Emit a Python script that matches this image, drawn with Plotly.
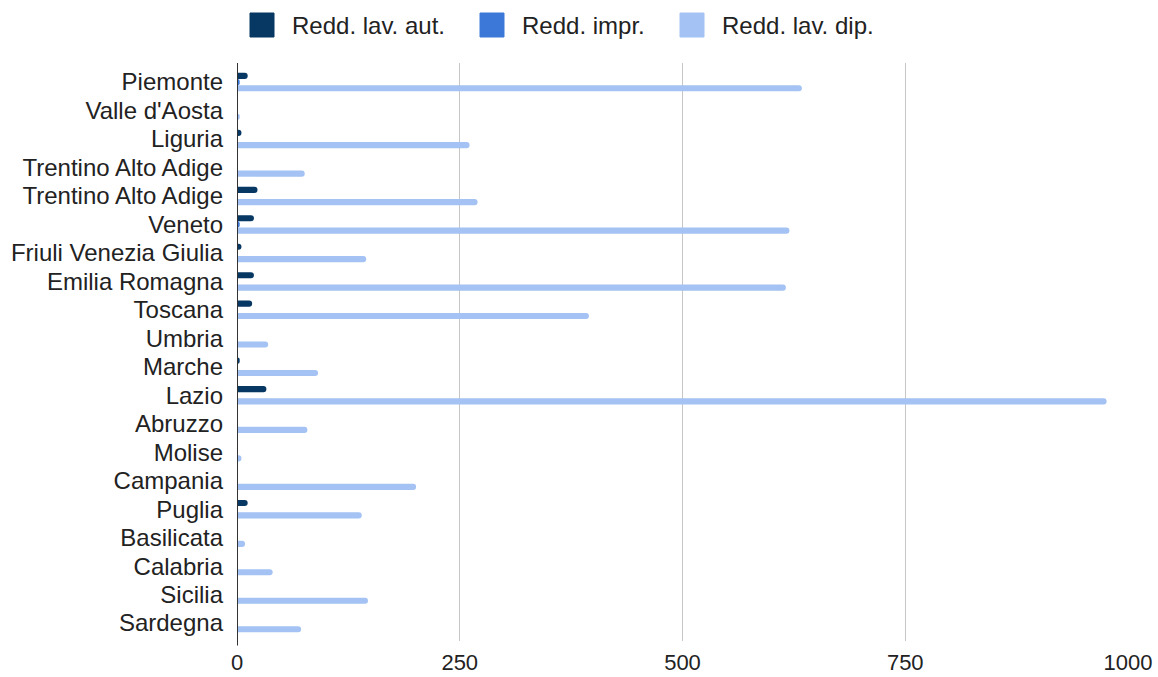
import plotly.graph_objects as go

regioni = [
    "Piemonte", "Valle d'Aosta", "Liguria", "Trentino Alto Adige",
    "Trentino Alto Adige", "Veneto", "Friuli Venezia Giulia", "Emilia Romagna",
    "Toscana", "Umbria", "Marche", "Lazio", "Abruzzo", "Molise", "Campania",
    "Puglia", "Basilicata", "Calabria", "Sicilia", "Sardegna",
]
redd_lav_aut = [12, 0, 5, 0, 23, 19, 5, 19, 17, 0, 3, 33, 0, 0, 0, 12, 0, 0, 0, 0]
redd_impr = [3, 0, 0, 0, 0, 3, 0, 0, 0, 0, 0, 0, 0, 0, 0, 0, 0, 0, 0, 0]
redd_lav_dip = [634, 3, 261, 76, 270, 620, 145, 616, 395, 35, 91, 976, 79, 5,
                201, 140, 9, 40, 147, 72]
x_ticks = [0, 250, 500, 750, 1000]

serie = ["Redd. lav. aut.", "Redd. impr.", "Redd. lav. dip."]
colori = ["#073763", "#3c78d8", "#a4c2f4"]
valori = [redd_lav_aut, redd_impr, redd_lav_dip]

FONT = "Liberation Sans, Arial, sans-serif"
FS = 24
W, H = 1158, 677
ML, MR, MT, MB = 237, 30, 63, 36
PW, PH = W - ML - MR, H - MT - MB

pos = list(range(len(regioni)))

fig = go.Figure()
for name, vals, color in zip(serie, valori, colori):
    fig.add_trace(go.Bar(
        y=pos, x=vals, name=name, orientation="h", showlegend=False,
        marker=dict(color=color, line=dict(width=0)),
    ))

# legend drawn above the plot: swatch + label for each series
legend_x = [250, 480, 680]
for px, name, color in zip(legend_x, serie, colori):
    x0 = (px - ML) / PW
    x1 = (px + 24 - ML) / PW
    y0 = (H - MB - 37) / PH
    y1 = (H - MB - 13) / PH
    fig.add_shape(type="rect", xref="paper", yref="paper",
                  x0=x0, x1=x1, y0=y0, y1=y1,
                  fillcolor=color, line=dict(color=color, width=1))
    fig.add_annotation(xref="paper", yref="paper", x=(px + 40 - ML) / PW,
                       y=(y0 + y1) / 2, text=name, showarrow=False,
                       xanchor="left", yanchor="middle",
                       font=dict(family=FONT, size=FS, color="#222222"))

fig.update_layout(
    width=W, height=H,
    paper_bgcolor="white", plot_bgcolor="white",
    margin=dict(l=ML, r=MR, t=MT, b=MB),
    barmode="group", bargap=0.35, bargroupgap=0.0,
    barcornerradius="50%",
    font=dict(family=FONT, size=FS, color="#222222"),
    showlegend=False,
)
fig.update_xaxes(
    range=[0, 1000], tickvals=x_ticks, ticktext=[str(v) for v in x_ticks],
    showgrid=True, gridcolor="#c6c6c6", gridwidth=1, automargin=False,
    zeroline=False, showline=False, ticks="", ticklen=0, ticklabelstandoff=6,
    tickfont=dict(family=FONT, size=22, color="#222222"),
)
fig.update_yaxes(
    tickvals=pos, ticktext=regioni, autorange=False, automargin=False,
    range=[19.63, -0.67],
    showgrid=False, zeroline=False, showline=False, ticks="",
    tickfont=dict(family=FONT, size=FS, color="#222222"), ticklabelstandoff=13,
)
fig.add_shape(type="line", xref="x", yref="paper", x0=0, x1=0, y0=-0.008, y1=1,
              line=dict(color="#333333", width=2))

fig.write_html("out.html")
